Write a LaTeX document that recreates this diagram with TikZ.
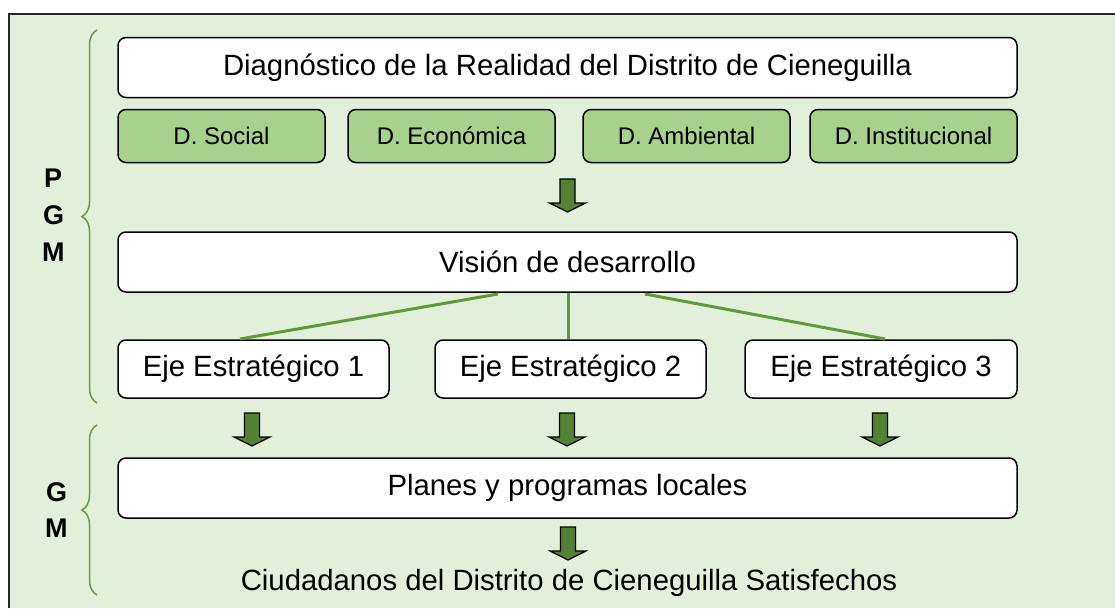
\documentclass[tikz,border=0pt]{standalone}
\usepackage{fontspec}
\setmainfont{Liberation Sans}
\usetikzlibrary{decorations.pathreplacing}
\definecolor{bgfill}{HTML}{E2EFDA}
\definecolor{boxgreen}{HTML}{A9D18E}
\definecolor{arrowgreen}{HTML}{548235}
\definecolor{linegreen}{HTML}{5E9A3A}
\definecolor{bracegreen}{HTML}{6A9A48}
\begin{document}
\begin{tikzpicture}[x=1pt,y=-1pt,
  bigbox/.style={draw=black, line width=1.5pt, fill=white, rounded corners=8pt,
    minimum height=60pt, inner sep=0pt, font=\fontsize{29.3}{34}\selectfont},
  dimbox/.style={draw=black, line width=1.5pt, fill=boxgreen, rounded corners=8pt,
    minimum width=207pt, minimum height=53pt, inner sep=0pt, font=\fontsize{24}{28}\selectfont},
  ejebox/.style={draw=black, line width=1.5pt, fill=white, rounded corners=8pt,
    minimum width=271pt, minimum height=58pt, inner sep=0pt, font=\fontsize{29.3}{34}\selectfont},
  sidelabel/.style={font=\fontsize{27}{30}\selectfont\bfseries, inner sep=0pt, anchor=west},
  link/.style={draw=linegreen, line width=3pt},
  bracestyle/.style={draw=bracegreen, line width=1.5pt, decorate, decoration={brace, amplitude=15pt}},
  blockarrow/.pic={\draw[fill=arrowgreen, draw=black, line width=1.2pt, line join=miter]
    (-7.5,0) -- (7.5,0) -- (7.5,24) -- (18,24) -- (0,33) -- (-18,24) -- (-7.5,24) -- cycle;}
]
\useasboundingbox (0,0) rectangle (1115,608);
% frame
\fill[bgfill] (9,14) rectangle (1115,608);
\draw[line width=2pt, black!85] (9,608) -- (9,14) -- (1115,14);

% braces
\coordinate (b1top) at (97,30);
\coordinate (b1bot) at (97,403);
\coordinate (b2top) at (97,425);
\coordinate (b2bot) at (97,595);
\draw[bracestyle] (b1bot) -- (b1top);
\draw[bracestyle] (b2bot) -- (b2top);

% side labels
\node[sidelabel] (lp) at (44,178) {P};
\node[sidelabel] (lg) at (43,215) {G};
\node[sidelabel] (lm) at (42,252) {M};
\node[sidelabel] (lg2) at (46,492) {G};
\node[sidelabel] (lm2) at (45,528) {M};

% boxes
\node[bigbox, minimum width=899pt] (diag) at (567.5,67.5) {Diagnóstico de la Realidad del Distrito de Cieneguilla};
\node[dimbox] (dsoc) at (221.5,136) {D. Social};
\node[dimbox] (deco) at (451.5,136) {D. Económica};
\node[dimbox] (damb) at (686.5,136) {D. Ambiental};
\node[dimbox] (dins) at (913.5,136) {D. Institucional};

\node[bigbox, minimum width=899pt] (vis) at (567.5,262) {Visión de desarrollo};

\node[ejebox] (eje1) at (253.5,369) {Eje Estratégico 1};
\node[ejebox] (eje2) at (570.5,369) {Eje Estratégico 2};
\node[ejebox, minimum width=272pt] (eje3) at (881,369) {Eje Estratégico 3};

\node[bigbox, minimum width=899pt] (plan) at (567.5,488) {Planes y programas locales};

\node[inner sep=0pt, font=\fontsize{29.3}{34}\selectfont] (ciud) at (569,583) {Ciudadanos del Distrito de Cieneguilla Satisfechos};

% connectors
\coordinate (v1) at (498,294);
\coordinate (v2) at (568,293);
\coordinate (v3) at (645,294);
\coordinate (e1) at (240,339);
\coordinate (e2) at (568,339);
\coordinate (e3) at (885,339);
\draw[link] (v1) -- (e1);
\draw[link] (v2) -- (e2);
\draw[link] (v3) -- (e3);

% block arrows
\pic at (567.5,179) {blockarrow};
\pic at (252,413) {blockarrow};
\pic at (567,413) {blockarrow};
\pic at (880,413) {blockarrow};
\pic at (568,527) {blockarrow};
\end{tikzpicture}
\end{document}
